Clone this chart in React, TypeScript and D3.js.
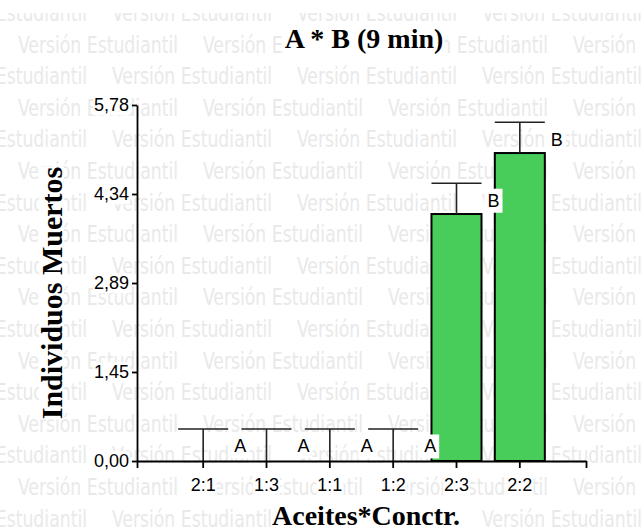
import React, { useRef, useEffect } from 'react';
import * as d3 from 'd3';

// Data
const categories = ["2:1", "1:3", "1:1", "1:2", "2:3", "2:2"];
const means = [0, 0, 0, 0, 4.01, 5.0];
const errors = [0.52, 0.52, 0.52, 0.52, 0.5, 0.5];
const letters = ["A", "A", "A", "A", "B", "B"];
const yTickValues = [0, 1.445, 2.89, 4.335, 5.78];
const yTickLabels = ["0,00", "1,45", "2,89", "4,34", "5,78"];
const title = "A * B (9 min)";
const xTitle = "Aceites*Conctr.";
const yTitle = "Individuos Muertos";
const watermark = "Versión Estudiantil";

const W = 641, H = 532;

// white box behind each text, like the original
const backdrop = (sel: any, padX = 1, padY = 0) => {
    sel.each(function (this: SVGTextElement) {
        const b = this.getBBox();
        const r = document.createElementNS("http://www.w3.org/2000/svg", "rect");
        r.setAttribute("x", String(b.x - padX));
        r.setAttribute("y", String(b.y - padY));
        r.setAttribute("width", String(b.width + 2 * padX));
        r.setAttribute("height", String(b.height + 2 * padY));
        r.setAttribute("fill", "#fff");
        const tr = this.getAttribute("transform");
        if (tr) r.setAttribute("transform", tr);
        this.parentNode!.insertBefore(r, this);
    });
};

const App = () => {
    const ref = useRef<SVGSVGElement>(null);

    useEffect(() => {
        document.body.style.margin = "0";
        const svg = d3.select(ref.current);
        svg.selectAll("*").remove();

        svg.append("rect").attr("width", W).attr("height", H).attr("fill", "#fff");

        // watermark
        svg.append("clipPath").attr("id", "wm-clip")
            .append("rect").attr("x", 0).attr("y", 13).attr("width", W).attr("height", H - 13);
        const wm = svg.append("g")
            .attr("clip-path", "url(#wm-clip)")
            .attr("fill", "#e9e9e9")
            .style("font-family", "'Liberation Sans Narrow', 'DejaVu Sans Condensed', Roboto, sans-serif")
            .style("font-size", "23px");
        for (let k = 0; k < 18; k++) {
            const yb = 21 + 31.6 * k;
            const off = k % 2 === 0 ? -73 : 18;
            for (let xx = off; xx < W; xx += 185) {
                wm.append("text")
                    .attr("x", xx).attr("y", yb)
                    .attr("textLength", 160)
                    .attr("lengthAdjust", "spacingAndGlyphs")
                    .text(watermark);
            }
        }

        const x = d3.scaleBand()
            .domain(categories)
            .range([137, 586])
            .paddingInner(0.21)
            .paddingOuter(0.65);

        const y = d3.scaleLinear()
            .domain([0, 5.78])
            .range([461, 105]);

        const rows = categories.map((c, i) => ({ c, m: means[i], e: errors[i], l: letters[i] }));

        // Bars
        svg.selectAll("rect.bar")
            .data(rows.filter(d => d.m > 0))
            .enter()
            .append("rect")
            .attr("class", "bar")
            .attr("x", d => x(d.c)!)
            .attr("y", d => y(d.m))
            .attr("width", x.bandwidth())
            .attr("height", d => y(0) - y(d.m))
            .attr("fill", "#48cd5a")
            .attr("stroke", "#000")
            .attr("stroke-width", 2);

        // Error bars
        const eb = svg.append("g").attr("stroke", "#222").attr("stroke-width", 1.6);
        rows.forEach(d => {
            const cx = x(d.c)! + x.bandwidth() / 2;
            eb.append("line")
                .attr("x1", cx).attr("x2", cx)
                .attr("y1", y(d.m)).attr("y2", y(d.m + d.e));
            eb.append("line")
                .attr("x1", x(d.c)!).attr("x2", x(d.c)! + x.bandwidth())
                .attr("y1", y(d.m + d.e)).attr("y2", y(d.m + d.e));
        });

        // Y axis
        const yAxis = svg.append("g")
            .attr("transform", "translate(137,0)")
            .call(d3.axisLeft(y)
                .tickValues(yTickValues)
                .tickFormat((_d, i) => yTickLabels[i])
                .tickSize(5)
                .tickPadding(3)
                .tickSizeOuter(0));
        yAxis.attr("font-size", null).attr("font-family", null);
        yAxis.selectAll("path, line").attr("stroke", "#000").attr("stroke-width", 1.8);
        yAxis.selectAll("text")
            .style("font-family", "'Liberation Sans', Arial, sans-serif")
            .style("font-size", "18px")
            .attr("fill", "#000");

        // X axis
        const xAxis = svg.append("g")
            .attr("transform", "translate(0,461)")
            .call(d3.axisBottom(x)
                .tickSize(7)
                .tickPadding(10)
                .tickSizeOuter(0));
        xAxis.attr("font-size", null).attr("font-family", null);
        xAxis.selectAll("path, line").attr("stroke", "#000").attr("stroke-width", 1.8);
        xAxis.selectAll("text")
            .style("font-family", "'Liberation Sans', Arial, sans-serif")
            .style("font-size", "18px")
            .attr("fill", "#000");

        // axis end ticks
        svg.append("line").attr("x1", 137.5).attr("x2", 137.5).attr("y1", y(0)).attr("y2", 468)
            .attr("stroke", "#000").attr("stroke-width", 1.8);
        svg.append("line").attr("x1", 586.5).attr("x2", 586.5).attr("y1", y(0)).attr("y2", 468)
            .attr("stroke", "#000").attr("stroke-width", 1.8);

        backdrop(yAxis.selectAll("text"));
        backdrop(xAxis.selectAll("text"));

        // Significance letters
        const lt = svg.append("g")
            .selectAll("text")
            .data(rows)
            .enter()
            .append("text")
            .attr("x", d => x(d.c)! + x.bandwidth() / 2 + 37)
            .attr("y", d => y(d.m + d.e) + 23.5)
            .attr("text-anchor", "middle")
            .style("font-family", "'Liberation Sans', Arial, sans-serif")
            .style("font-size", "18px")
            .attr("fill", "#000")
            .text(d => d.l);
        backdrop(lt, 3, 2);

        // Titles
        const serif = "'Liberation Serif', 'Times New Roman', serif";
        const t = svg.append("text")
            .attr("x", 364).attr("y", 48)
            .attr("text-anchor", "middle")
            .style("font-family", serif)
            .style("font-size", "28px")
            .style("font-weight", "bold")
            .text(title);
        backdrop(t);

        const xt = svg.append("text")
            .attr("x", 366).attr("y", 525)
            .attr("text-anchor", "middle")
            .style("font-family", serif)
            .style("font-size", "28px")
            .style("font-weight", "bold")
            .text(xTitle);
        backdrop(xt);

        const yt = svg.append("text")
            .attr("transform", "translate(62,293) rotate(-90)")
            .attr("text-anchor", "middle")
            .style("font-family", serif)
            .style("font-size", "30px")
            .style("font-weight", "bold")
            .text(yTitle);
        backdrop(yt, 0, -4);
    }, []);

    return <svg ref={ref} width={W} height={H} style={{ display: "block" }} />;
};

export default App;
